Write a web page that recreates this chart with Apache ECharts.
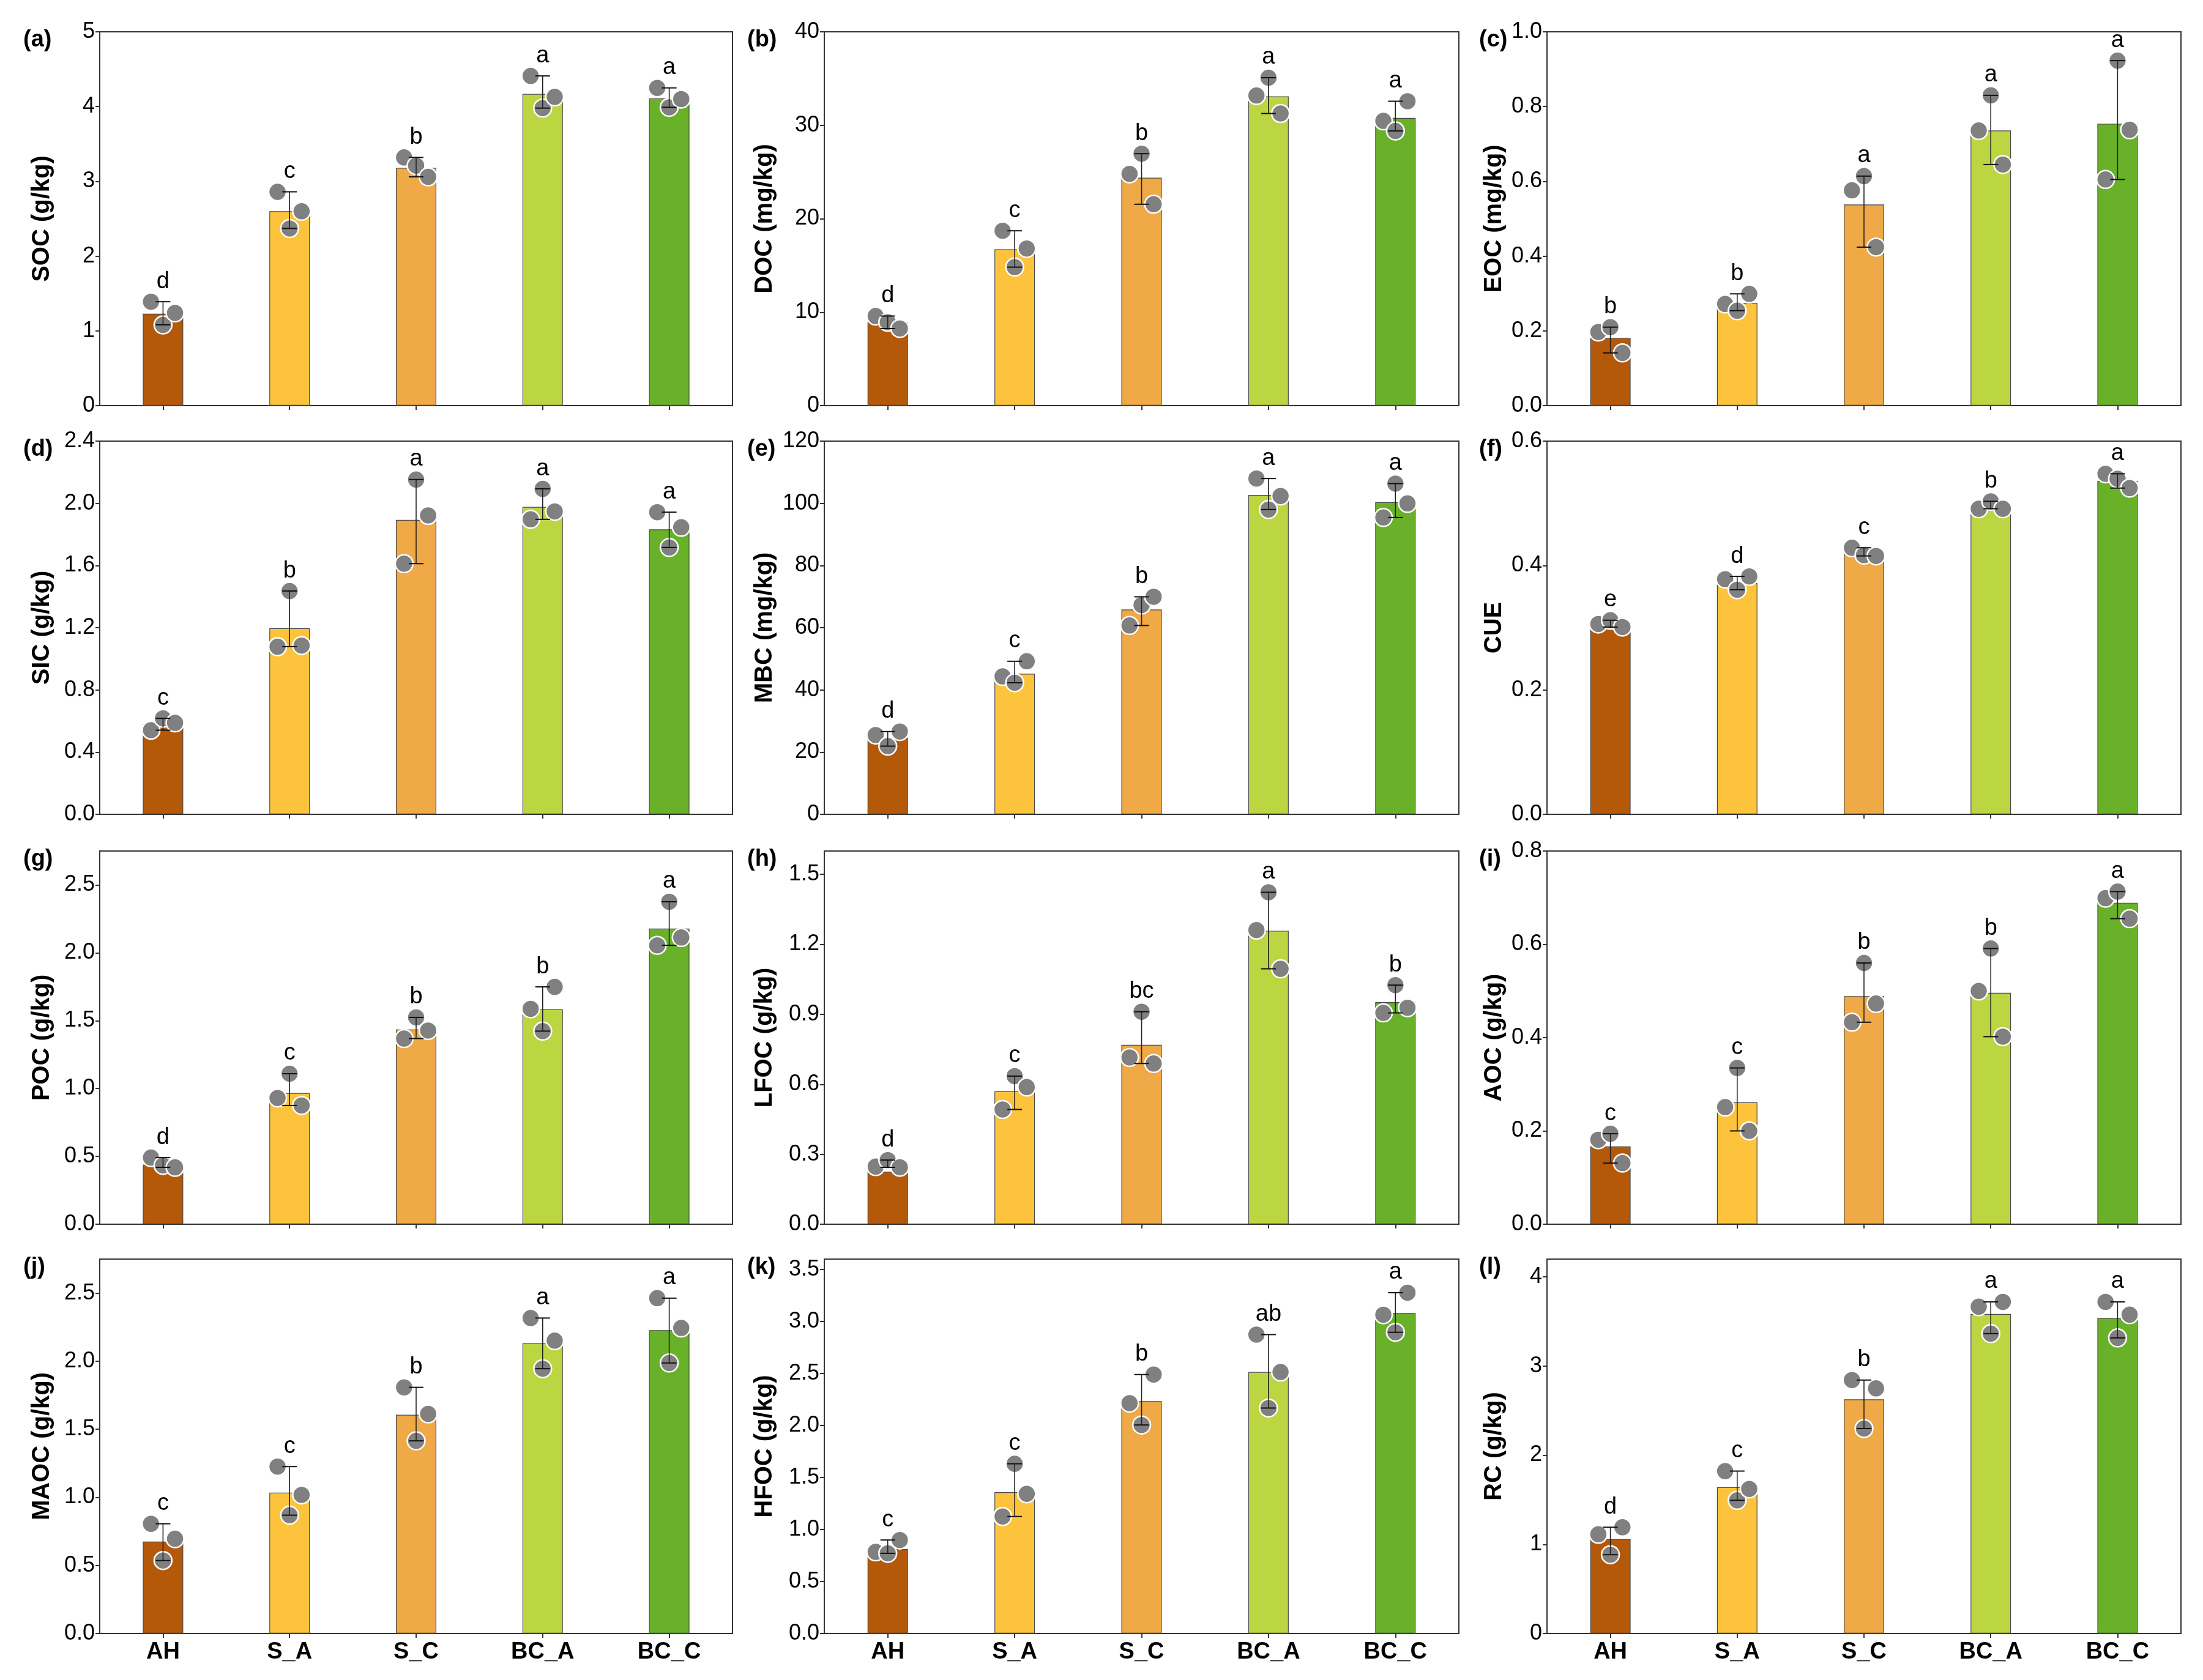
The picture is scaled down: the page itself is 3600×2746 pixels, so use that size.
<!DOCTYPE html>
<html><head><meta charset="utf-8">
<script src="https://cdn.jsdelivr.net/npm/echarts@6/dist/echarts.min.js"></script>
<style>html,body{margin:0;padding:0;background:#fff}#chart{width:3600px;height:2746px}</style>
</head><body><div id="chart"></div>
<script>
// ---------------- data ----------------
const categories = ['AH', 'S_A', 'S_C', 'BC_A', 'BC_C'];

// replicates are listed left, middle, right as drawn
const SOC_mean = [1.23, 2.60, 3.18, 4.17, 4.11];
const SOC_reps = [[1.39, 1.08, 1.24], [2.86, 2.37, 2.60], [3.32, 3.21, 3.06], [4.41, 3.98, 4.13], [4.25, 3.99, 4.10]];
const SOC_letters = ['d', 'c', 'b', 'a', 'a'];

const DOC_mean = [8.92, 16.73, 24.39, 33.10, 30.79];
const DOC_reps = [[9.59, 8.92, 8.25], [18.71, 14.82, 16.81], [24.80, 26.96, 21.55], [33.19, 35.09, 31.26], [30.47, 29.39, 32.57]];
const DOC_letters = ['d', 'c', 'b', 'a', 'a'];

const EOC_mean = [0.181, 0.275, 0.538, 0.736, 0.754];
const EOC_reps = [[0.197, 0.210, 0.141], [0.272, 0.254, 0.299], [0.576, 0.614, 0.424], [0.736, 0.830, 0.645], [0.605, 0.923, 0.738]];
const EOC_letters = ['b', 'b', 'a', 'a', 'a'];

const SIC_mean = [0.580, 1.197, 1.893, 1.977, 1.832];
const SIC_reps = [[0.541, 0.617, 0.588], [1.078, 1.436, 1.085], [1.612, 2.153, 1.922], [1.897, 2.093, 1.948], [1.943, 1.716, 1.846]];
const SIC_letters = ['c', 'b', 'a', 'a', 'a'];

const MBC_mean = [24.65, 45.20, 65.84, 102.69, 100.38];
const MBC_reps = [[25.50, 21.92, 26.61], [44.35, 42.30, 49.21], [60.72, 67.29, 69.94], [107.97, 98.0, 102.35], [95.44, 106.35, 99.96]];
const MBC_letters = ['d', 'c', 'b', 'a', 'a'];

const CUE_mean = [0.300, 0.372, 0.419, 0.493, 0.536];
const CUE_reps = [[0.306, 0.312, 0.301], [0.378, 0.361, 0.3825], [0.4286, 0.4166, 0.4154], [0.4913, 0.5032, 0.4913], [0.5475, 0.5394, 0.5245]];
const CUE_letters = ['e', 'd', 'c', 'b', 'a'];

const POC_mean = [0.44, 0.967, 1.435, 1.583, 2.179];
const POC_reps = [[0.491, 0.433, 0.419], [0.930, 1.109, 0.875], [1.368, 1.524, 1.427], [1.587, 1.423, 1.749], [2.055, 2.376, 2.113]];
const POC_letters = ['d', 'c', 'b', 'b', 'a'];

const LFOC_mean = [0.225, 0.570, 0.769, 1.258, 0.952];
const LFOC_reps = [[0.247, 0.275, 0.244], [0.492, 0.635, 0.588], [0.715, 0.911, 0.689], [1.261, 1.423, 1.095], [0.906, 1.025, 0.928]];
const LFOC_letters = ['d', 'c', 'bc', 'a', 'b'];

const AOC_mean = [0.167, 0.2615, 0.489, 0.496, 0.689];
const AOC_reps = [[0.181, 0.194, 0.131], [0.251, 0.335, 0.200], [0.433, 0.560, 0.473], [0.500, 0.591, 0.402], [0.699, 0.713, 0.655]];
const AOC_letters = ['c', 'c', 'b', 'b', 'a'];

const MAOC_mean = [0.675, 1.035, 1.606, 2.132, 2.228];
const MAOC_reps = [[0.806, 0.536, 0.696], [1.226, 0.869, 1.018], [1.808, 1.415, 1.613], [2.317, 1.945, 2.151], [2.463, 1.987, 2.244]];
const MAOC_letters = ['c', 'c', 'b', 'a', 'a'];

const HFOC_mean = [0.812, 1.359, 2.234, 2.514, 3.081];
const HFOC_reps = [[0.785, 0.771, 0.899], [1.125, 1.632, 1.343], [2.215, 2.005, 2.490], [2.874, 2.168, 2.514], [3.065, 2.896, 3.277]];
const HFOC_letters = ['c', 'c', 'b', 'ab', 'a'];

const RC_mean = [1.059, 1.641, 2.626, 3.584, 3.539];
const RC_reps = [[1.113, 0.884, 1.192], [1.822, 1.494, 1.622], [2.843, 2.299, 2.750], [3.666, 3.364, 3.720], [3.720, 3.316, 3.577]];
const RC_letters = ['d', 'c', 'b', 'a', 'a'];

const panelTags = ['(a)', '(b)', '(c)', '(d)', '(e)', '(f)', '(g)', '(h)', '(i)', '(j)', '(k)', '(l)'];
const axisNames = ['SOC (g/kg)', 'DOC (mg/kg)', 'EOC (mg/kg)', 'SIC (g/kg)', 'MBC (mg/kg)', 'CUE',
  'POC (g/kg)', 'LFOC (g/kg)', 'AOC (g/kg)', 'MAOC (g/kg)', 'HFOC (g/kg)', 'RC (g/kg)'];
const yMax = [5, 40, 1.0, 2.4, 120, 0.6, 2.75, 1.6, 0.8, 2.75, 3.6, 4.2];
const yStep = [1, 10, 0.2, 0.4, 20, 0.2, 0.5, 0.3, 0.2, 0.5, 0.5, 1];
const yDecimals = [0, 0, 1, 1, 0, 1, 1, 1, 1, 1, 1, 0];

const allMeans = [SOC_mean, DOC_mean, EOC_mean, SIC_mean, MBC_mean, CUE_mean, POC_mean, LFOC_mean, AOC_mean, MAOC_mean, HFOC_mean, RC_mean];
const allReps = [SOC_reps, DOC_reps, EOC_reps, SIC_reps, MBC_reps, CUE_reps, POC_reps, LFOC_reps, AOC_reps, MAOC_reps, HFOC_reps, RC_reps];
const allLetters = [SOC_letters, DOC_letters, EOC_letters, SIC_letters, MBC_letters, CUE_letters, POC_letters, LFOC_letters, AOC_letters, MAOC_letters, HFOC_letters, RC_letters];

// ---------------- style / layout ----------------
const barColors = ['#B45909', '#FDC33C', '#EFA947', '#BCD642', '#6AB12A'];
const jitter = [-0.095, 0, 0.095];
const FONT = 'Liberation Sans, Arial, Helvetica, sans-serif';
const colLeft = [163, 1347, 2528];
const colWidth = [1034, 1037, 1036];
const colNameGap = [74, 77, 66];
const colTagLeft = [38, 1221, 2417];
const rowTop = [52, 721, 1391, 2058];
const rowHeight = [611, 610, 610, 612];

const grid = [], xAxis = [], yAxis = [], series = [], graphic = [];

for (let p = 0; p < 12; p++) {
  const r = Math.floor(p / 3), c = p % 3;
  const mean = allMeans[p], reps = allReps[p], letters = allLetters[p];
  grid.push({ left: colLeft[c], top: rowTop[r], width: colWidth[c], height: rowHeight[r],
    show: true, borderColor: '#333', borderWidth: 2, backgroundColor: 'transparent' });
  // category axis (bars)
  xAxis.push({ type: 'category', gridIndex: p, data: categories,
    axisLine: { onZero: false, lineStyle: { color: '#333', width: 2 } },
    axisTick: { show: true, alignWithLabel: true, length: 7, lineStyle: { color: '#333', width: 2 } },
    axisLabel: { show: r === 3, fontFamily: FONT, fontSize: 38, fontWeight: 'bold', color: '#000', margin: 12 },
    splitLine: { show: false } });
  // hidden value axis for jittered points and error bars
  xAxis.push({ type: 'value', gridIndex: p, min: -0.5, max: 4.5, show: false,
    axisLine: { show: false, onZero: false }, splitLine: { show: false } });
  const ratio = yMax[p] / yStep[p];
  const onTick = Math.abs(ratio - Math.round(ratio)) < 1e-6;
  yAxis.push({ type: 'value', gridIndex: p, min: 0, max: yMax[p], interval: yStep[p],
    name: axisNames[p], nameLocation: 'middle', nameGap: colNameGap[c],
    nameTextStyle: { fontFamily: FONT, fontSize: 40, fontWeight: 'bold', color: '#000' },
    axisLine: { show: true, onZero: false, lineStyle: { color: '#333', width: 2 } },
    axisTick: { show: true, length: 7, lineStyle: { color: '#333', width: 2 } },
    axisLabel: { fontFamily: FONT, fontSize: 36, color: '#000', margin: 8, showMaxLabel: onTick,
      formatter: (v) => Number(v).toFixed(yDecimals[p]) },
    splitLine: { show: false } });

  series.push({ type: 'bar', xAxisIndex: 2 * p, yAxisIndex: p, barWidth: 66, z: 2,
    data: mean.map((v, i) => ({ value: v, itemStyle: { color: barColors[i], borderColor: '#4a4a4a', borderWidth: 1.2 } })),
    silent: true, animation: false });

  const pts = [];
  reps.forEach((arr, i) => arr.forEach((v, k) => pts.push([i + jitter[k], v])));
  series.push({ type: 'scatter', xAxisIndex: 2 * p + 1, yAxisIndex: p, z: 3, symbol: 'circle', symbolSize: 29,
    itemStyle: { color: '#808080', borderColor: '#ffffff', borderWidth: 2.5, opacity: 1 },
    data: pts, silent: true, animation: false });

  const eb = reps.map((arr, i) => [i, Math.min.apply(null, arr), Math.max.apply(null, arr)]);
  series.push({ type: 'custom', xAxisIndex: 2 * p + 1, yAxisIndex: p, z: 4, silent: true, animation: false,
    dimensions: ['x', 'lo', 'hi'], encode: { x: 'x', y: ['lo', 'hi'] }, data: eb,
    renderItem: function (params, api) {
      const x = api.value('x');
      const top = api.coord([x, api.value('hi')]);
      const bot = api.coord([x, api.value('lo')]);
      const cap = 12;
      const st = { stroke: '#111', lineWidth: 2 };
      return { type: 'group', children: [
        { type: 'line', shape: { x1: top[0], y1: top[1], x2: bot[0], y2: bot[1] }, style: { stroke: '#222', lineWidth: 1.6 } },
        { type: 'line', shape: { x1: top[0] - cap, y1: top[1], x2: top[0] + cap, y2: top[1] }, style: st },
        { type: 'line', shape: { x1: bot[0] - cap, y1: bot[1], x2: bot[0] + cap, y2: bot[1] }, style: st },
        { type: 'text', x: top[0], y: top[1] - 33,
          style: { text: letters[params.dataIndex], fontFamily: FONT, fontSize: 38, fill: '#000', align: 'center', verticalAlign: 'middle' } }
      ] };
    } });

  graphic.push({ type: 'text', left: colTagLeft[c], top: rowTop[r] - 5,
    style: { text: panelTags[p], fontFamily: FONT, fontSize: 38, fontWeight: 'bold', fill: '#000' } });
}

const chart = echarts.init(document.getElementById('chart'), null, { renderer: 'canvas' });
chart.setOption({ backgroundColor: '#ffffff', animation: false, grid, xAxis, yAxis, series, graphic });
</script></body></html>
